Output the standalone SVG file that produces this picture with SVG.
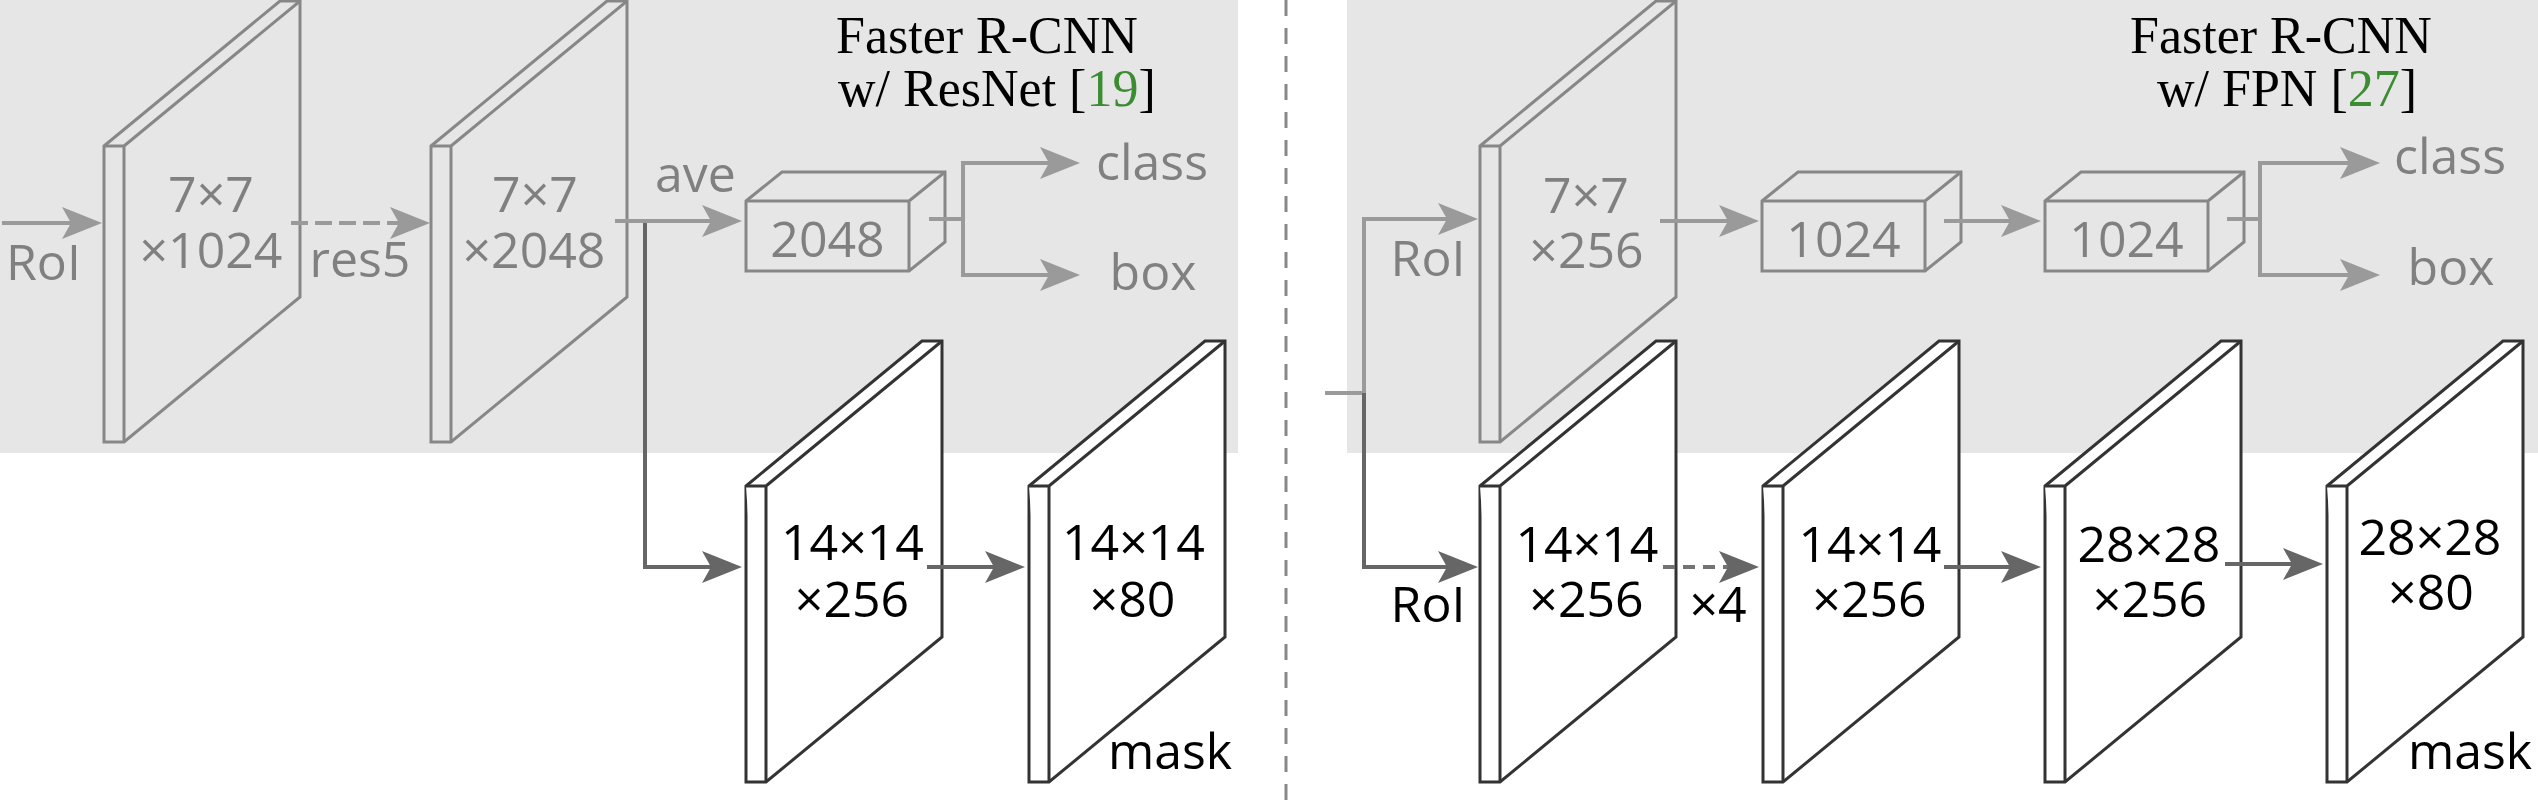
<svg xmlns="http://www.w3.org/2000/svg" xmlns:xlink="http://www.w3.org/1999/xlink" width="2538" height="802" viewBox="0 0 2538 802">
<style>
.bg{fill:#e6e6e6}
.pu{fill:none;stroke:#878787;stroke-width:3;stroke-linejoin:miter}
.pl{fill:#ffffff;stroke:#333333;stroke-width:3;stroke-linejoin:miter}
.al{fill:none;stroke:#9a9a9a;stroke-width:4}
.ad{fill:none;stroke:#666666;stroke-width:4}
.dl{stroke-dasharray:17 7}
.dd{stroke:#737373;stroke-dasharray:12 8}
.tg{font-family:"Open Sans","Noto Sans",sans-serif;font-size:50px;fill:#808080}
.tb{font-family:"Open Sans","Noto Sans",sans-serif;font-size:50px;fill:#000000}
.tt{font-family:"Liberation Serif","Times New Roman",serif;font-size:52px;fill:#000000}
.ref{fill:#3c8c32}
.mid{text-anchor:middle}
</style>
<defs>
<g id="plane">
<path d="M0,0 L176,-145 L196,-145 L196,151 L20,296 L0,296 Z"/>
<path d="M0,0 H20 V296 M20,0 L196,-145"/>
</g>
<g id="box">
<path d="M0,0 L36,-29 H199 V41 L163,70 H0 Z"/>
<path d="M0,0 H163 V70 M163,0 L199,-29"/>
</g>
<marker id="ml" viewBox="0 -16 40 32" refX="9" refY="0" markerWidth="40" markerHeight="32" markerUnits="userSpaceOnUse" orient="auto">
<path d="M0,-16 L40,0 L0,16 L9,0 Z" fill="#9a9a9a"/>
</marker>
<marker id="md" viewBox="0 -16 40 32" refX="9" refY="0" markerWidth="40" markerHeight="32" markerUnits="userSpaceOnUse" orient="auto">
<path d="M0,-16 L40,0 L0,16 L9,0 Z" fill="#666666"/>
</marker>
</defs>

<g id="background">
<rect class="bg" x="0" y="0" width="1238" height="453"/>
<rect class="bg" x="1347" y="0" width="1191" height="453"/>
<line x1="1286" y1="0" x2="1286" y2="802" stroke="#888888" stroke-width="3" stroke-dasharray="16 12"/>
</g>

<g id="title-resnet">
<text class="tt" x="836" y="53">Faster R-CNN</text>
<text class="tt" x="838" y="106">w/ ResNet [<tspan class="ref">19</tspan>]</text>
</g>
<g id="title-fpn">
<text class="tt" x="2130" y="53">Faster R-CNN</text>
<text class="tt" x="2157" y="106">w/ FPN [<tspan class="ref">27</tspan>]</text>
</g>

<g id="res-plane1">
<use xlink:href="#plane" class="pu" transform="translate(104,146)"/>
<text class="tg mid" x="211" y="212">7×7</text>
<text class="tg mid" x="211" y="268">×1024</text>
</g>
<g id="res-plane2">
<use xlink:href="#plane" class="pu" transform="translate(431,146)"/>
<text class="tg mid" x="535" y="212">7×7</text>
<text class="tg mid" x="534" y="268">×2048</text>
</g>
<g id="res-box">
<use xlink:href="#box" class="pu" transform="translate(746,201)"/>
<text class="tg mid" x="827.5" y="257">2048</text>
</g>
<g id="fpn-plane1">
<use xlink:href="#plane" class="pu" transform="translate(1480,146)"/>
<text class="tg mid" x="1586" y="213">7×7</text>
<text class="tg mid" x="1586.5" y="268">×256</text>
</g>
<g id="fpn-box1">
<use xlink:href="#box" class="pu" transform="translate(1762,201)"/>
<text class="tg mid" x="1843.5" y="257">1024</text>
</g>
<g id="fpn-box2">
<use xlink:href="#box" class="pu" transform="translate(2045,201)"/>
<text class="tg mid" x="2126.5" y="257">1024</text>
</g>

<g id="res-mask1">
<use xlink:href="#plane" class="pl" transform="translate(746,486)"/>
<text class="tb mid" x="852.5" y="560">14×14</text>
<text class="tb mid" x="852" y="617">×256</text>
</g>
<g id="res-mask2">
<use xlink:href="#plane" class="pl" transform="translate(1029,486)"/>
<text class="tb mid" x="1133.5" y="560">14×14</text>
<text class="tb mid" x="1132.5" y="617">×80</text>
</g>
<g id="fpn-mask1">
<use xlink:href="#plane" class="pl" transform="translate(1480,486)"/>
<text class="tb mid" x="1587" y="562">14×14</text>
<text class="tb mid" x="1586.5" y="617">×256</text>
</g>
<g id="fpn-mask2">
<use xlink:href="#plane" class="pl" transform="translate(1763,486)"/>
<text class="tb mid" x="1870" y="562">14×14</text>
<text class="tb mid" x="1869.5" y="617">×256</text>
</g>
<g id="fpn-mask3">
<use xlink:href="#plane" class="pl" transform="translate(2045,486)"/>
<text class="tb mid" x="2149" y="562">28×28</text>
<text class="tb mid" x="2150" y="617">×256</text>
</g>
<g id="fpn-mask4">
<use xlink:href="#plane" class="pl" transform="translate(2327,486)"/>
<text class="tb mid" x="2430" y="555">28×28</text>
<text class="tb mid" x="2431" y="610">×80</text>
</g>

<g id="connectors">
<path class="al" d="M2,223 H71" marker-end="url(#ml)"/>
<path class="al dl" d="M291,223 H399" marker-end="url(#ml)"/>
<path class="al" d="M615,221 H711" marker-end="url(#ml)"/>
<path class="al" d="M929,219 H963"/>
<path class="al" d="M963,219 V163 H1049" marker-end="url(#ml)"/>
<path class="al" d="M963,219 V275 H1049" marker-end="url(#ml)"/>
<path class="ad" d="M645,223 V567 H711" marker-end="url(#md)"/>
<path class="ad" d="M927,567 H994" marker-end="url(#md)"/>

<path class="al" d="M1325,393 H1364 V219 H1447" marker-end="url(#ml)"/>
<path class="al" d="M1660,221 H1728" marker-end="url(#ml)"/>
<path class="al" d="M1944,221 H2010" marker-end="url(#ml)"/>
<path class="al" d="M2227,219 H2260"/>
<path class="al" d="M2260,219 V163 H2349" marker-end="url(#ml)"/>
<path class="al" d="M2260,219 V275 H2349" marker-end="url(#ml)"/>
<path class="ad" d="M1364,393 V567 H1447" marker-end="url(#md)"/>
<path class="ad dd" d="M1663,567 H1728" marker-end="url(#md)"/>
<path class="ad" d="M1944,567 H2010" marker-end="url(#md)"/>
<path class="ad" d="M2225,564 H2292" marker-end="url(#md)"/>
</g>

<g id="labels">
<text class="tg" x="6" y="280">RoI</text>
<text class="tg mid" x="360" y="277">res5</text>
<text class="tg mid" x="695.5" y="192">ave</text>
<text class="tg mid" x="1152" y="180">class</text>
<text class="tg mid" x="1153" y="290">box</text>
<text class="tb mid" x="1170" y="769">mask</text>
<text class="tg mid" x="1428" y="276">RoI</text>
<text class="tg mid" x="2450" y="174">class</text>
<text class="tg mid" x="2451" y="285">box</text>
<text class="tb mid" x="1428" y="622">RoI</text>
<text class="tb mid" x="1718" y="622">×4</text>
<text class="tb mid" x="2470" y="769">mask</text>
</g>
</svg>
